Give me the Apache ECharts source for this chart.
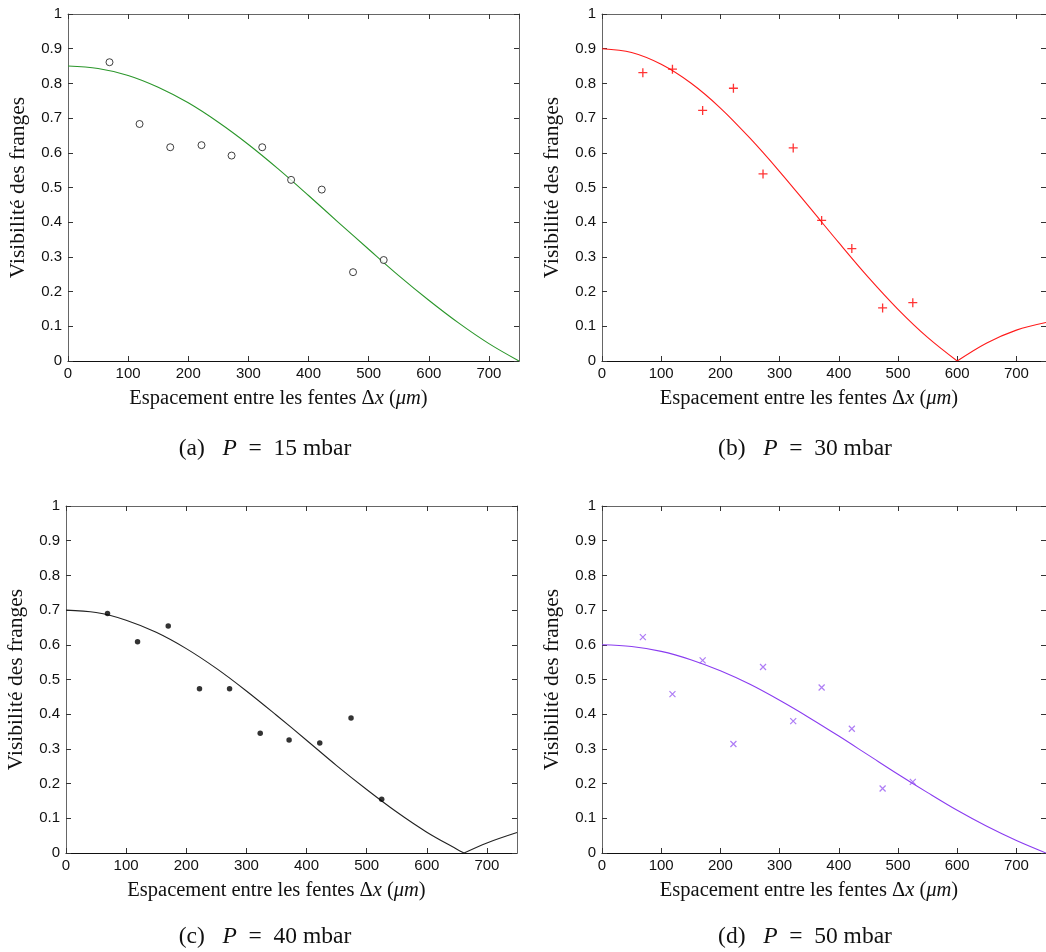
<!DOCTYPE html>
<html>
<head>
<meta charset="utf-8">
<script src="https://cdn.jsdelivr.net/npm/echarts@6/dist/echarts.min.js"></script>
<style>
html,body{margin:0;padding:0;background:#fff;}
#chart{width:1046px;height:952px;}
</style>
</head>
<body>
<div id="chart"></div>
<script>
// ---- data ----
const measuredX = [69, 119, 170, 222, 272, 323, 371, 422, 474, 525];
const visA = [0.861, 0.683, 0.616, 0.622, 0.592, 0.616, 0.522, 0.494, 0.256, 0.291];
const visB = [0.831, 0.841, 0.722, 0.786, 0.539, 0.614, 0.405, 0.324, 0.153, 0.168];
const visC = [0.690, 0.609, 0.654, 0.473, 0.473, 0.345, 0.326, 0.317, 0.389, 0.155];
const visD = [0.622, 0.458, 0.555, 0.314, 0.536, 0.380, 0.477, 0.358, 0.186, 0.205];

const curveX = [0, 50, 100, 150, 200, 250, 300, 350, 400, 450, 500, 550, 600, 650, 700, 750];
const fitA = [0.850, 0.843, 0.823, 0.789, 0.744, 0.688, 0.624, 0.553, 0.477, 0.399, 0.322, 0.246, 0.175, 0.109, 0.050, 0.000];
const fitB = [0.900, 0.889, 0.855, 0.801, 0.729, 0.642, 0.546, 0.444, 0.341, 0.241, 0.149, 0.068, 0.000, 0.052, 0.089, 0.111];
const curveXC = [0, 50, 100, 150, 200, 250, 300, 350, 400, 450, 500, 550, 600, 650, 662, 700, 750];
const fitC = [0.700, 0.693, 0.671, 0.636, 0.589, 0.532, 0.467, 0.397, 0.325, 0.252, 0.183, 0.118, 0.060, 0.011, 0.000, 0.029, 0.059];
const fitD = [0.600, 0.595, 0.581, 0.557, 0.525, 0.486, 0.440, 0.390, 0.337, 0.282, 0.227, 0.174, 0.123, 0.077, 0.036, 0.000];

const xTicks = [0, 100, 200, 300, 400, 500, 600, 700];
const yTicks = [0, 0.1, 0.2, 0.3, 0.4, 0.5, 0.6, 0.7, 0.8, 0.9, 1];
const captions = ['(a)', '(b)', '(c)', '(d)'];
const pressures = [15, 30, 40, 50];
const xName = 'Espacement entre les fentes Δ{i|x} ({i|μm})';
const yName = 'Visibilité des franges';

// ---- layout ----
const grids = [
  {left: 68, top: 14, width: 451, height: 347},
  {left: 602, top: 14, width: 449, height: 347},
  {left: 66, top: 506, width: 451, height: 347},
  {left: 602, top: 506, width: 449, height: 347}
];
const lineColors = ['#2a962a', '#ff1a1a', '#222222', '#8a3cf0'];
const serif = '"Liberation Serif", "DejaVu Serif", serif';
const sans = '"Liberation Sans", Arial, sans-serif';
const boxColor = '#666';

const xAxes = [], yAxes = [], series = [];
grids.forEach((g, i) => {
  const common = {
    gridIndex: i, type: 'value', min: 0, max: 750, interval: 100,
    axisLine: {show: true, onZero: false, lineStyle: {color: boxColor, width: 1}},
    axisTick: {show: true, inside: true, length: 5, lineStyle: {color: '#333'}},
    splitLine: {show: false}
  };
  xAxes.push(Object.assign({}, common, {
    position: 'bottom',
    axisLine: {show: true, onZero: false, lineStyle: {color: '#111', width: 1}},
    axisLabel: {show: true, margin: 5, fontFamily: sans, fontSize: 15, color: '#111',
      showMaxLabel: false,
      formatter: v => xTicks.indexOf(v) >= 0 ? String(v) : ''},
    name: xName, nameLocation: 'middle', nameGap: 27,
    nameTextStyle: {fontFamily: serif, fontSize: 20.5, color: '#111', padding: [0, 30, 0, 0],
      rich: {i: {fontFamily: serif, fontSize: 20.5, fontStyle: 'italic', color: '#111'}}}
  }));
  xAxes.push(Object.assign({}, common, {
    position: 'top', axisLabel: {show: false}
  }));
  const ycommon = {
    gridIndex: i, type: 'value', min: 0, max: 1, interval: 0.1,
    axisLine: {show: true, onZero: false, lineStyle: {color: boxColor, width: 1}},
    axisTick: {show: true, inside: true, length: 5, lineStyle: {color: '#333'}},
    splitLine: {show: false}
  };
  yAxes.push(Object.assign({}, ycommon, {
    position: 'left',
    axisLabel: {show: true, margin: 6, fontFamily: sans, fontSize: 15, color: '#111',
      formatter: v => String(Math.round(v * 10) / 10)},
    name: yName, nameLocation: 'middle', nameGap: 39, nameRotate: 90,
    nameTextStyle: {fontFamily: serif, fontSize: 21.5, color: '#111'}
  }));
  yAxes.push(Object.assign({}, ycommon, {
    position: 'right', axisLabel: {show: false}
  }));
});

function addCurve(i, xs, ys) {
  const pts = xs.map((x, k) => [x, ys[k]]);
  // split at interior zero (cusp) so each branch stays smooth
  let cut = -1;
  for (let k = 1; k < ys.length - 1; k++) if (ys[k] === 0) cut = k;
  const parts = cut > 0 ? [pts.slice(0, cut + 1), pts.slice(cut)] : [pts];
  parts.forEach(p => series.push({
    type: 'line', xAxisIndex: 2 * i, yAxisIndex: 2 * i, data: p,
    smooth: 0.35, showSymbol: false, symbol: 'none', silent: true,
    lineStyle: {color: lineColors[i], width: 1.1}, z: 2
  }));
}
addCurve(0, curveX, fitA);
addCurve(1, curveX, fitB);
addCurve(2, curveXC, fitC);
addCurve(3, curveX, fitD);

const markerDefs = [
  {symbol: 'circle', symbolSize: 7, itemStyle: {color: '#fff', borderColor: '#111', borderWidth: 1}},
  {symbol: 'path://M5,0L5,10M0,5L10,5', symbolSize: 9, itemStyle: {color: 'none', borderColor: '#ff0000', borderWidth: 1.3}},
  {symbol: 'circle', symbolSize: 5.5, itemStyle: {color: '#000', borderWidth: 0}},
  {symbol: 'path://M0,0L10,10M10,0L0,10', symbolSize: 6, itemStyle: {color: 'none', borderColor: '#9a5cf2', borderWidth: 1.2}}
];
[visA, visB, visC, visD].forEach((vals, i) => {
  series.push(Object.assign({
    type: 'scatter', xAxisIndex: 2 * i, yAxisIndex: 2 * i,
    data: measuredX.map((x, k) => [x, vals[k]]), z: 3, silent: true
  }, markerDefs[i]));
});

const captionPos = [[265, 449], [805, 449], [265, 937], [805, 937]];
const graphics = captions.map((c, i) => ({
  type: 'text', x: captionPos[i][0], y: captionPos[i][1],
  style: {
    text: c + '   {i|P}  =  ' + pressures[i] + ' mbar',
    fontFamily: serif, fontSize: 23.5, fill: '#111', align: 'center', verticalAlign: 'middle',
    rich: {i: {fontFamily: serif, fontSize: 23.5, fontStyle: 'italic', fill: '#111'}}
  }
}));

const chart = echarts.init(document.getElementById('chart'), null, {renderer: 'canvas'});
chart.setOption({
  animation: false,
  backgroundColor: '#fff',
  grid: grids,
  xAxis: xAxes,
  yAxis: yAxes,
  series: series,
  graphic: graphics
});
</script>
</body>
</html>
